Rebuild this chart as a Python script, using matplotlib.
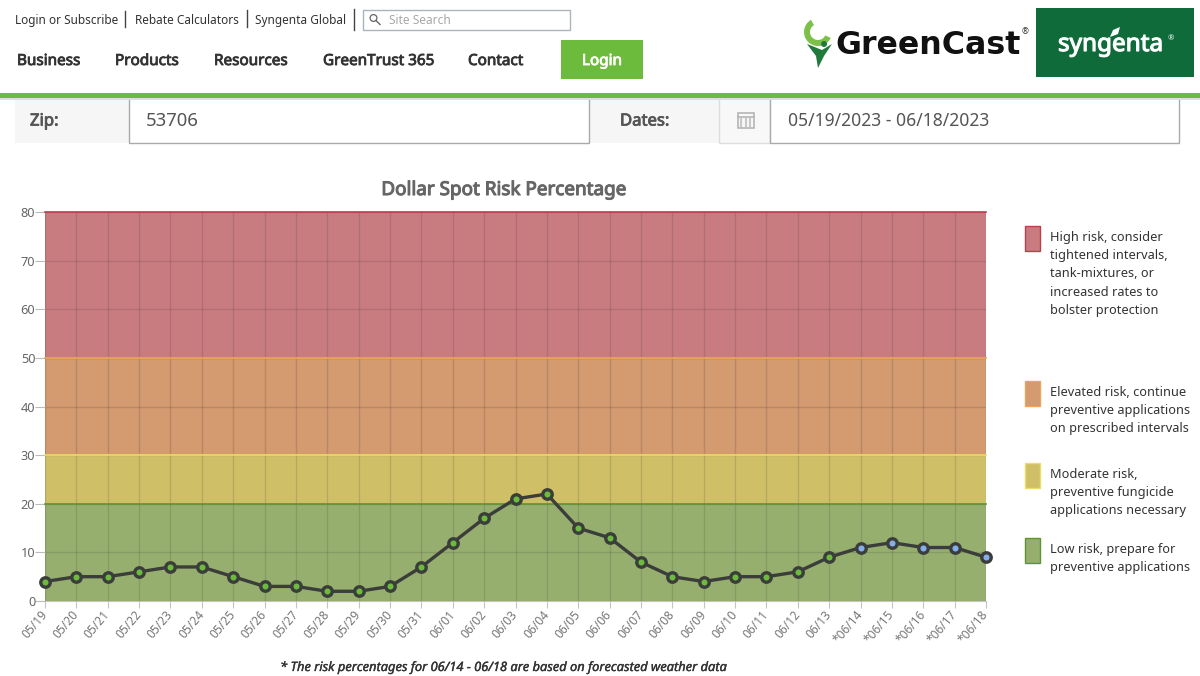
"""Dollar Spot risk page from GreenCast"""
import matplotlib
matplotlib.use("Agg")
import matplotlib.pyplot as plt
import matplotlib.patheffects as pe
from matplotlib.patches import Rectangle, Circle, Polygon, Wedge

plt.rcParams['font.family'] = ['Noto Sans', 'DejaVu Sans']

dates = ['05/19', '05/20', '05/21', '05/22', '05/23', '05/24', '05/25', '05/26',
         '05/27', '05/28', '05/29', '05/30', '05/31', '06/01', '06/02', '06/03',
         '06/04', '06/05', '06/06', '06/07', '06/08', '06/09', '06/10', '06/11',
         '06/12', '06/13', '*06/14', '*06/15', '*06/16', '*06/17', '*06/18']
risk = [4, 5, 5, 6, 7, 7, 5, 3, 3, 2, 2, 3, 7, 12, 17, 21, 22, 15, 13, 8, 5, 4,
        5, 5, 6, 9, 11, 12, 11, 11, 9]

band_edges = [0, 20, 30, 50, 80]
band_fill = ['#97AF6E', '#CFC068', '#D49A70', '#C97C80']
band_line = ['#5F9432', '#EEDD66', '#EFA45C', '#B8404F']
legend_text = ['Low risk, prepare for\npreventive applications',
               'Moderate risk,\npreventive fungicide\napplications necessary',
               'Elevated risk, continue\npreventive applications\non prescribed intervals',
               'High risk, consider\ntightened intervals,\ntank-mixtures, or\nincreased rates to\nbolster protection']
legend_top = [538, 463, 381, 226]

top_links = ['Login or Subscribe', 'Rebate Calculators', 'Syngenta Global']
top_x = [15, 135, 255]
nav_links = ['Business', 'Products', 'Resources', 'GreenTrust 365', 'Contact']
nav_x = [17, 115, 214, 323, 468]

GREEN = '#6CBB3C'
W, H = 1200, 676
fig = plt.figure(figsize=(W / 100, H / 100), dpi=100, facecolor='white')


def heavy(color, width=0.6):
    """Noto Sans comes in one weight here, so thicken the glyphs with a stroke"""
    return [pe.withStroke(linewidth=width, foreground=color)]


# page around the chart, in pixel coordinates
page = fig.add_axes([0, 0, 1, 1])
page.set_xlim(0, W)
page.set_ylim(H, 0)
page.axis('off')

for label, x in zip(top_links, top_x):
    page.text(x, 20.5, label, fontsize=8.5, color='#333333', va='center')
for x, (y0, y1) in zip([125, 247, 354], [(11, 27), (10, 27), (9, 30)]):
    page.plot([x, x], [y0, y1], color='#444444', lw=1)
page.add_patch(Rectangle((363, 10), 207, 20, fc='white', ec='#AAB4BA', lw=1))
page.add_patch(Circle((373.5, 18), 3.4, fc='none', ec='#666666', lw=0.9))
page.plot([376, 380], [20.5, 24.5], color='#666666', lw=1)
page.text(389, 20.5, 'Site Search', fontsize=8.6, color='#A8A8A8', va='center')

for label, x in zip(nav_links, nav_x):
    page.text(x, 61.5, label, fontsize=11, color='#333333', va='center', path_effects=heavy('#333333'))
page.add_patch(Rectangle((561, 40), 82, 39, fc=GREEN, ec='none'))
page.text(602, 61.5, 'Login', fontsize=11, color='white', ha='center', va='center', path_effects=heavy('white'))

# logos
page.add_patch(Wedge((818, 32), 14, 25, 240, width=6, fc='#7CC04A', ec='none'))
page.add_patch(Circle((824, 44), 3, fc='#1F7A3C', ec='none'))
page.add_patch(Polygon([(807, 44), (822, 50), (832, 44), (824, 56), (818, 68), (816, 56)], fc='#1F7A3C', ec='none'))
page.text(835, 45, 'GreenCast', fontsize=22.8, fontweight='bold', family=['DejaVu Sans'], color='#111111', va='center')
page.text(1025, 32, '®', fontsize=6, color='#333333', ha='center', va='center')
page.add_patch(Rectangle((1036, 8), 158, 69, fc='#0F6B3A', ec='none'))
page.text(1058, 45, 'syngenta', fontsize=17.5, color='white', va='center', path_effects=heavy('white', 0.8))
page.add_patch(Polygon([(1110, 37), (1113, 30), (1120, 27), (1118, 34)], fc='white', ec='none'))
page.text(1171, 39, '®', fontsize=5.5, color='white', ha='center', va='center')

# search row
page.add_patch(Rectangle((15, 97), 1165, 46, fc='#F6F6F6', ec='none'))
page.add_patch(Rectangle((129, 97), 460, 45.5, fc='white', ec='#AAAAAA', lw=1))
page.add_patch(Rectangle((719, 97), 51, 45.5, fc='#F8F8F8', ec='#DDDDDD', lw=1))
page.add_patch(Rectangle((770, 97), 409, 45.5, fc='white', ec='#AAAAAA', lw=1))
page.text(30, 121.5, 'Zip:', fontsize=12, color='#555555', va='center', path_effects=heavy('#555555'))
page.text(146, 121.5, '53706', fontsize=13.3, color='#555555', va='center')
page.text(620, 121.5, 'Dates:', fontsize=12, color='#555555', va='center', path_effects=heavy('#555555'))
page.text(788, 121.5, '05/19/2023 - 06/18/2023', fontsize=12.6, color='#555555', va='center')
page.add_patch(Rectangle((737.5, 112.5), 16, 15, fc='none', ec='#B5B5B5', lw=1.2))
page.plot([737.5, 753.5], [117, 117], color='#B5B5B5', lw=1.2)
for x in [741, 745.5, 750]:
    page.plot([x, x], [119, 126], color='#C8C8C8', lw=1.5)
# green rule with its shadow
page.add_patch(Rectangle((0, 93), W, 5, fc=GREEN, ec='none', zorder=5))
page.add_patch(Rectangle((0, 98), W, 2, fc='#DDDDDD', ec='none', zorder=5))

page.text(504, 190, 'Dollar Spot Risk Percentage', fontsize=13.6, color='#666666', ha='center', va='center',
          path_effects=heavy('#666666', 0.8))
page.text(504, 667.5, '* The risk percentages for 06/14 - 06/18 are based on forecasted weather data',
          fontsize=9.25, style='italic', color='#333333', ha='center', va='center',
          path_effects=heavy('#333333', 0.25))

# legend
for i in range(4):
    y = legend_top[i]
    page.add_patch(Rectangle((1025, y), 15, 25, fc=band_fill[i], ec=band_line[i], lw=1))
    page.text(1050, y + 4.5, legend_text[i], fontsize=9.2, color='#333333', va='top', linespacing=1.54)

# chart
ax = fig.add_axes([45 / W, 1 - 601 / H, (986 - 45) / W, (601 - 212) / H])
xs = list(range(len(dates)))
ax.set_xlim(0, len(dates) - 1)
ax.set_ylim(0, 80)
ax.patch.set_alpha(0)
for i in range(4):
    ax.axhspan(band_edges[i], band_edges[i + 1], fc=band_fill[i], ec='none', zorder=0)
    ax.axhline(band_edges[i + 1], color=band_line[i], lw=1.2, zorder=3, clip_on=False)
ax.set_axisbelow(False)
ax.grid(True, color='#333333', alpha=0.17, lw=1)
ax.set_xticks(xs)
ax.set_xticklabels(dates, rotation=50, ha='right', va='center', rotation_mode='anchor', fontsize=8.6, color='#777777')
ax.set_yticks(range(0, 81, 10))
ax.tick_params(axis='y', labelsize=9.2, labelcolor='#666666', length=7, color='#BBBBBB', pad=0)
ax.tick_params(axis='x', length=5, color='#C5C5C5', pad=3)
for side in ['top', 'left', 'right']:
    ax.spines[side].set_visible(False)
ax.spines['bottom'].set_color('#C5C5C5')

# actual days are green, forecast days blue
n_actual = sum(1 for d in dates if not d.startswith('*'))
ax.plot(xs, risk, color='#3A3D3A', lw=2.4, zorder=5, clip_on=False)
ax.plot(xs[:n_actual], risk[:n_actual], 'o', ms=6.8, mfc='#6CBB3C', mec='#3A3D3A', mew=2.4, zorder=6, clip_on=False)
ax.plot(xs[n_actual:], risk[n_actual:], 'o', ms=6.8, mfc='#86AEE8', mec='#3A3D3A', mew=2.4, zorder=6, clip_on=False)

fig.savefig('out.png', dpi=100)
